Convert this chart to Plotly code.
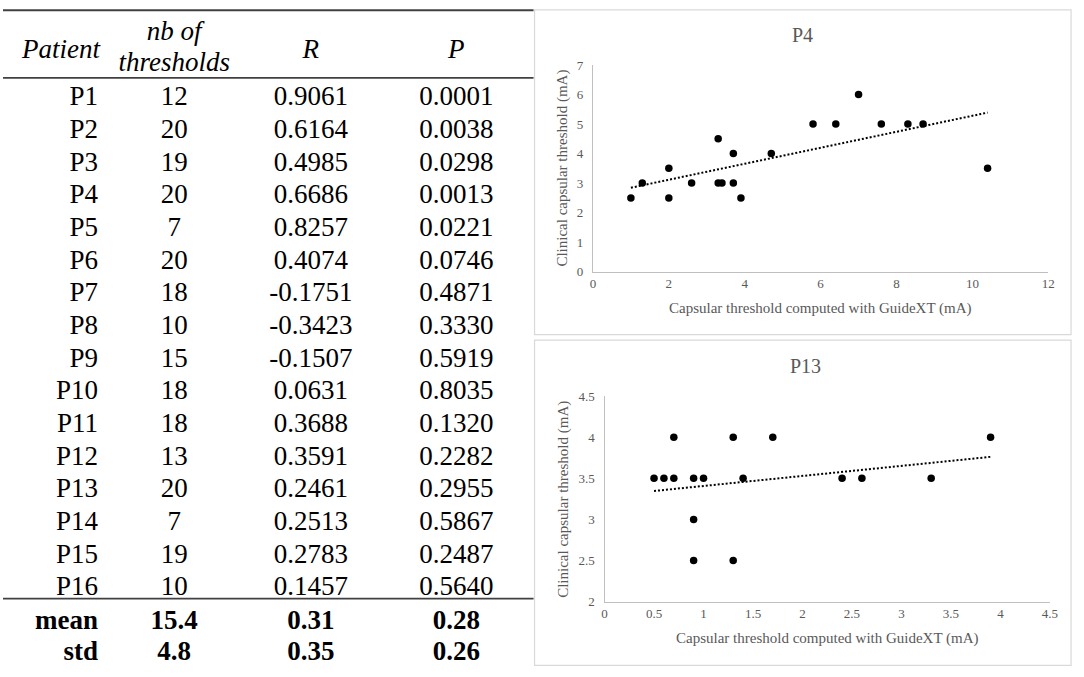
import numpy as np
import plotly.graph_objects as go

W, H = 1084, 677

# ---------------- data ----------------
patients = ["P1", "P2", "P3", "P4", "P5", "P6", "P7", "P8", "P9", "P10",
            "P11", "P12", "P13", "P14", "P15", "P16"]
nb_thresholds = [12, 20, 19, 20, 7, 20, 18, 10, 15, 18, 18, 13, 20, 7, 19, 10]
r_values = [0.9061, 0.6164, 0.4985, 0.6686, 0.8257, 0.4074, -0.1751, -0.3423,
            -0.1507, 0.0631, 0.3688, 0.3591, 0.2461, 0.2513, 0.2783, 0.1457]
p_values = [0.0001, 0.0038, 0.0298, 0.0013, 0.0221, 0.0746, 0.4871, 0.3330,
            0.5919, 0.8035, 0.1320, 0.2282, 0.2955, 0.5867, 0.2487, 0.5640]
summary_labels = ["mean", "std"]
summary_nb = ["15.4", "4.8"]
summary_r = ["0.31", "0.35"]
summary_p = ["0.28", "0.26"]
header_labels = ["Patient", "nb of", "thresholds", "R", "P"]

p4_x = [1.0, 1.3, 2.0, 2.0, 2.6, 3.3, 3.3, 3.4, 3.7, 3.7, 3.9, 4.7, 5.8, 6.4,
        7.0, 7.6, 8.3, 8.7, 10.4]
p4_y = [2.5, 3.0, 3.5, 2.5, 3.0, 4.5, 3.0, 3.0, 4.0, 3.0, 2.5, 4.0, 5.0, 5.0,
        6.0, 5.0, 5.0, 5.0, 3.5]

p13_x = [0.5, 0.6, 0.7, 0.7, 0.9, 1.0, 0.9, 0.9, 1.3, 1.3, 1.4, 1.7, 2.4, 2.6,
         3.3, 3.9]
p13_y = [3.5, 3.5, 3.5, 4.0, 3.5, 3.5, 3.0, 2.5, 4.0, 2.5, 3.5, 4.0, 3.5, 3.5,
         3.5, 4.0]

x_title = "Capsular threshold computed with GuideXT (mA)"
y_title = "Clinical capsular threshold (mA)"

# ---------------- layout constants ----------------
SERIF = "Liberation Serif"
GREY = "#595959"
TABLE_W = 542
COL_PAT, COL_NB, COL_R, COL_P = 96, 173, 311, 458
ROW0, ROW_STEP = 93.5, 33.42
SUM_ROWS = [629, 661]
HEAD_Y, NB1_Y, NB2_Y = 45, 27, 58.5
RULES_Y = [3.3, 72.5, 605]

fig = go.Figure()
tfont = dict(family=SERIF, size=27, color="black")
row_y = [ROW0 + ROW_STEP * i for i in range(len(patients))]

def col_text(x, ys, texts, pos="middle center"):
    fig.add_trace(go.Scatter(
        x=[x] * len(ys), y=ys, text=texts, mode="text", textposition=pos,
        textfont=tfont, xaxis="x3", yaxis="y3", hoverinfo="skip",
        showlegend=False, cliponaxis=False))

# header
col_text(COL_PAT + 2, [HEAD_Y], ["<i>" + header_labels[0] + "</i>"], "middle left")
col_text(COL_NB, [NB1_Y, NB2_Y], ["<i>" + header_labels[1] + "</i>",
                                  "<i>" + header_labels[2] + "</i>"])
col_text(COL_R, [HEAD_Y], ["<i>" + header_labels[3] + "</i>"])
col_text(COL_P, [HEAD_Y], ["<i>" + header_labels[4] + "</i>"])
# body
col_text(COL_PAT, row_y, patients, "middle left")
col_text(COL_NB, row_y, [str(v) for v in nb_thresholds])
col_text(COL_R, row_y, [f"{v:.4f}" for v in r_values])
col_text(COL_P, row_y, [f"{v:.4f}" for v in p_values])
# summary rows
col_text(COL_PAT, SUM_ROWS, [f"<b>{s}</b>" for s in summary_labels], "middle left")
col_text(COL_NB, SUM_ROWS, [f"<b>{s}</b>" for s in summary_nb])
col_text(COL_R, SUM_ROWS, [f"<b>{s}</b>" for s in summary_r])
col_text(COL_P, SUM_ROWS, [f"<b>{s}</b>" for s in summary_p])

shapes = []
for yy in RULES_Y:
    shapes.append(dict(type="line", xref="x3", yref="y3", x0=0, x1=536,
                       y0=yy, y1=yy, line=dict(color="#404040", width=1.8)))

# ---------------- scatter charts ----------------
def add_chart(xs, ys, xa, ya):
    fig.add_trace(go.Scatter(x=xs, y=ys, mode="markers",
                             marker=dict(color="black", size=7.5),
                             xaxis=xa, yaxis=ya, showlegend=False))
    k, b = np.polyfit(xs, ys, 1)
    tx = np.array([min(xs), max(xs)])
    fig.add_trace(go.Scatter(x=tx, y=k * tx + b, mode="lines",
                             line=dict(color="black", width=2, dash="2px,2px"),
                             xaxis=xa, yaxis=ya, showlegend=False,
                             hoverinfo="skip"))

add_chart(p4_x, p4_y, "x", "y")
add_chart(p13_x, p13_y, "x2", "y2")

def px(v):
    return v / W

def py(v):
    return 1 - v / H

# chart frames
for top, bot in [(3, 335), (340.7, 673.3)]:
    shapes.append(dict(type="rect", xref="paper", yref="paper",
                       x0=px(537), x1=px(1079), y0=py(bot), y1=py(top),
                       line=dict(color="#d9d9d9", width=1.2), layer="below"))

axis_common = dict(showline=True, linecolor="#bfbfbf", linewidth=1.2,
                   showgrid=False, zeroline=False, ticks="",
                   tickfont=dict(family=SERIF, size=13, color=GREY),
                   fixedrange=True)

annotations = []
def ann(text, x, y, size, angle=0):
    annotations.append(dict(text=text, xref="paper", yref="paper",
                            x=px(x), y=py(y), showarrow=False,
                            xanchor="center", yanchor="middle",
                            textangle=angle,
                            font=dict(family=SERIF, size=size, color=GREY)))

def chart_texts(title, tx, ty, cx, xt_y, yt_x, pt, pb):
    ann(title, tx, ty, 20)
    ann(x_title, cx, xt_y, 15)
    ann(y_title, yt_x, (pt + pb) / 2, 15, -90)

chart_texts("P4", 808, 28.5, 826, 308, 565, 59.3, 270.7)
chart_texts("P13", 811, 367, 832.7, 646.2, 566.7, 398, 608)

fig.update_layout(
    autosize=True, margin=dict(l=0, r=0, t=0, b=0),
    paper_bgcolor="white", plot_bgcolor="rgba(0,0,0,0)",
    xaxis=dict(domain=[px(596), px(1056)], range=[0, 12], dtick=2,
               anchor="y", **axis_common),
    yaxis=dict(domain=[py(270.7), py(59.3)], range=[0, 7], dtick=1,
               anchor="x", ticklabelstandoff=6, **axis_common),
    xaxis2=dict(domain=[px(607.7), px(1057.7)], range=[0, 4.5], dtick=0.5,
                anchor="y2", **axis_common),
    yaxis2=dict(domain=[py(608), py(398)], range=[2, 4.5], dtick=0.5,
                anchor="x2", ticklabelstandoff=6, **axis_common),
    xaxis3=dict(domain=[0, px(TABLE_W)], range=[0, TABLE_W], visible=False,
                anchor="y3", fixedrange=True),
    yaxis3=dict(domain=[0, 1], range=[H, 0], visible=False, anchor="x3",
                fixedrange=True),
    shapes=shapes, annotations=annotations,
)

fig.write_html(
    "out.html",
    config={"displayModeBar": False},
    default_width=f"{W}px; position:absolute; left:0px; top:0px",
    default_height=f"{H}px",
    post_script="document.body.style.margin='0px';"
                "document.body.style.padding='0px';",
)
